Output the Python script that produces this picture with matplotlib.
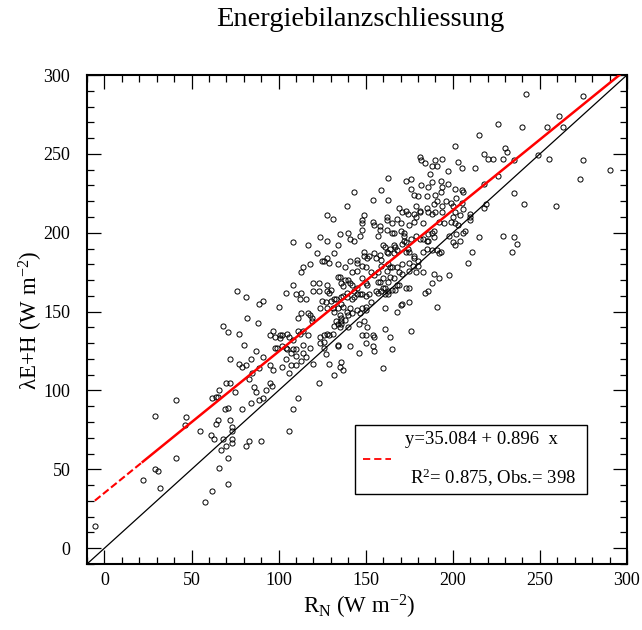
import numpy as np
import matplotlib
matplotlib.use('Agg')
import matplotlib.pyplot as plt
from matplotlib.ticker import MultipleLocator
from matplotlib.patches import Rectangle

plt.rcParams['font.family'] = 'serif'
plt.rcParams['font.serif'] = ['Liberation Serif', 'DejaVu Serif']
plt.rcParams['mathtext.fontset'] = 'custom'
plt.rcParams['mathtext.rm'] = 'Liberation Serif'
plt.rcParams['mathtext.it'] = 'Liberation Serif:italic'

####################################################################################################
# (R_N, lambdaE+H) pairs in W m-2, grouped by region of the cloud

upper_cloud = [
    (181, 248), (182, 246), (184, 244), (190, 246), (194, 247), (188, 242), (191, 242), (187, 237),
    (197, 239), (163, 235), (173, 233), (176, 234), (193, 233), (188, 232), (182, 230), (186, 229),
    (197, 231), (159, 227), (143, 226), (176, 228), (194, 229), (178, 224), (180, 223), (185, 223),
    (190, 224), (193, 226), (163, 221), (154, 221), (139, 217), (179, 217), (196, 220), (191, 220),
    (189, 218), (194, 217), (185, 216), (128, 211), (131, 209), (149, 211), (148, 208), (148, 206),
    (162, 210), (162, 208), (168, 209), (169, 216), (171, 213), (173, 214), (174, 212), (178, 212),
    (181, 214), (181, 213), (186, 213), (188, 212), (190, 213), (194, 213), (179, 210), (178, 207),
    (183, 206), (192, 207), (195, 206), (154, 207), (155, 205), (158, 204), (165, 206), (170, 206),
    (175, 205),
]

right_cloud = [
    (242, 288), (275, 287), (261, 274), (263, 267), (254, 267), (240, 267), (226, 269), (215, 262),
    (201, 255), (230, 254), (231, 251), (218, 250), (220, 247), (223, 247), (229, 247), (235, 246),
    (203, 245), (249, 249), (255, 247), (275, 246), (205, 241), (213, 241), (226, 236), (290, 240),
    (273, 234), (201, 228), (218, 231), (235, 225), (205, 227), (206, 226), (202, 222), (199, 219),
    (200, 217), (205, 219), (219, 218), (218, 216), (241, 218), (259, 217), (206, 215), (201, 213),
    (210, 212), (210, 210), (204, 211), (210, 208), (200, 210), (199, 207), (203, 205), (201, 206),
    (207, 201), (206, 200), (202, 199), (215, 197), (229, 198), (235, 197), (200, 194), (201, 192),
    (204, 195), (237, 193), (211, 188), (234, 188), (209, 181),
]

core_cloud = [
    (124, 197), (128, 195), (135, 199), (140, 200), (141, 196), (143, 195), (148, 202), (147, 198),
    (157, 198), (158, 202), (162, 202), (165, 200), (166, 200), (170, 201), (172, 200), (172, 198),
    (172, 195), (173, 194), (171, 193), (176, 196), (179, 198), (181, 196), (183, 196), (185, 195),
    (186, 199), (188, 200), (189, 201), (189, 197), (186, 195), (198, 198),
    (108, 194), (117, 192), (134, 192), (160, 192), (161, 191), (162, 188), (164, 190), (166, 192),
    (167, 191), (168, 189), (166, 187), (163, 187), (155, 187), (152, 185), (149, 188), (149, 185),
    (132, 187), (122, 187), (173, 188), (174, 190), (175, 188), (183, 188), (185, 190), (188, 189),
    (191, 189), (192, 187), (193, 188),
    (125, 182), (126, 182), (128, 184), (129, 181), (118, 180), (134, 180), (141, 182), (145, 181),
    (145, 183), (151, 184), (148, 179), (156, 184), (158, 186), (159, 183), (163, 180), (165, 178),
    (168, 178), (171, 180), (175, 181), (177, 179), (178, 184), (178, 185), (180, 182), (180, 179),
    (114, 178), (164, 178), (138, 178), (142, 175), (145, 176), (150, 178), (162, 176), (159, 179),
    (113, 175), (153, 175), (155, 173), (157, 175), (169, 175), (171, 174), (175, 176), (179, 175),
    (183, 175), (189, 174), (198, 173), (148, 171), (134, 172), (135, 172), (138, 170), (140, 170),
    (141, 168), (120, 168), (123, 168), (108, 167), (128, 167), (136, 168), (137, 166), (142, 167),
    (150, 168), (151, 167), (157, 169), (158, 169), (163, 169), (164, 172), (166, 171), (168, 167),
    (192, 171), (188, 168), (160, 171),
    (128, 163), (130, 164), (129, 162), (145, 165), (143, 163), (139, 162), (104, 162), (110, 161),
    (113, 162), (120, 163), (112, 158), (116, 158), (123, 163), (125, 157), (127, 156), (130, 157),
    (132, 158), (133, 158), (136, 159), (137, 160), (139, 159), (142, 158), (143, 159), (145, 161),
    (147, 161), (148, 161), (152, 161), (150, 160), (156, 163), (157, 162), (159, 163), (160, 165),
    (161, 165), (161, 161), (163, 163), (163, 161), (165, 164), (167, 164), (169, 167), (173, 165),
    (175, 165), (184, 162), (186, 163),
]

lower_cloud = [
    (100, 153), (111, 146), (113, 149), (117, 149), (118, 148), (119, 146), (119, 144), (124, 152),
    (128, 152), (131, 152), (134, 152), (136, 155), (137, 153), (139, 150), (140, 148), (141, 152),
    (142, 149), (145, 151), (147, 149), (148, 152), (150, 153), (150, 151), (153, 156), (161, 152),
    (168, 150), (170, 154), (171, 155), (175, 156), (191, 153), (132, 150), (135, 148), (136, 146),
    (138, 145), (133, 144),
    (95, 135), (97, 138), (98, 134), (101, 135), (102, 135), (101, 133), (105, 136), (106, 134),
    (108, 132), (111, 138), (114, 138), (112, 136), (117, 135), (124, 134), (126, 135), (128, 136),
    (129, 135), (131, 136), (124, 130), (126, 131), (126, 127), (132, 141), (134, 142), (135, 140),
    (136, 142), (136, 144), (140, 140), (146, 142), (149, 144), (151, 140), (148, 135), (150, 135),
    (154, 135), (155, 134), (161, 139), (164, 134), (176, 138),
    (98, 127), (99, 127), (102, 128), (104, 127), (105, 126), (108, 126), (110, 126), (114, 129),
    (107, 124), (110, 122), (114, 124), (118, 127), (127, 123), (134, 129), (134, 128), (141, 128),
    (150, 130), (154, 128), (155, 125), (165, 126), (146, 124), (116, 121), (104, 120), (113, 119),
    (102, 115), (97, 113), (107, 116), (110, 116), (106, 111), (120, 117), (129, 117), (136, 118),
    (135, 115), (137, 113), (132, 110), (160, 114), (95, 105), (96, 103), (123, 105), (111, 95),
    (108, 88), (106, 74),
]

left_cloud = [
    (76, 163), (81, 159), (89, 155), (91, 157), (82, 146), (88, 143), (68, 141), (71, 137),
    (77, 136), (80, 129), (87, 125), (72, 120), (84, 120), (91, 121), (77, 117), (79, 115),
    (81, 116), (95, 116), (89, 114), (85, 111), (83, 107), (70, 105), (72, 105), (86, 102),
    (66, 100), (75, 99), (87, 99), (93, 100), (41, 94), (62, 95), (64, 96), (65, 96),
    (71, 89), (69, 88), (79, 88), (84, 92), (89, 94), (91, 95), (29, 84), (47, 83),
    (46, 78), (65, 81), (64, 79), (72, 81), (55, 74), (61, 72), (63, 69), (68, 69),
    (73, 77), (73, 74), (73, 69), (73, 67), (70, 65), (67, 62), (81, 65), (83, 68),
    (90, 68), (41, 57), (71, 57), (66, 51), (29, 50), (31, 49), (22, 43), (32, 38),
    (71, 41), (62, 36), (58, 29), (-5.5, 14),
]

intercept = 35.084
slope = 0.896
r_squared = 0.875
n_obs = 398

####################################################################################################

points = np.array(upper_cloud + right_cloud + core_cloud + lower_cloud + left_cloud, dtype=float)
rn, flux = points[:, 0], points[:, 1]

fig = plt.figure(figsize=(6.42, 6.30), dpi=100)
ax = fig.add_axes([87/642, 1 - 564/630, 540/642, 489/630])

ax.plot(rn, flux, 'o', ms=3.7, mfc='none', mec='black', mew=0.7, zorder=3)
ax.axline((0, 0), slope=1, color='black', lw=0.9, zorder=2)

# regression line: sparse (dashed looking) at the low end, solid elsewhere
split = 22
x_dash = np.array([rn.min(), split])
x_solid = np.array([split, 300])
ax.plot(x_dash, intercept + slope * x_dash, color='red', lw=1.5, dashes=(3.5, 1.5), zorder=4)
ax.plot(x_solid, intercept + slope * x_solid, color='red', lw=1.8, zorder=4)

ax.set_xlim(-10, 300)
ax.set_ylim(-10, 300)
for axis in (ax.xaxis, ax.yaxis):
    axis.set_major_locator(MultipleLocator(50))
    axis.set_minor_locator(MultipleLocator(10))
ax.tick_params(which='both', direction='in', top=True, right=True, width=0.9, labelsize=13)
ax.tick_params(which='major', length=10)
ax.tick_params(which='minor', length=5)
ax.tick_params(axis='x', pad=6)
ax.tick_params(axis='y', pad=12)
for spine in ax.spines.values():
    spine.set_linewidth(1.5)

# legend box
ax.add_patch(Rectangle((0.497, 0.1425), 0.4295, 0.141, transform=ax.transAxes,
                       facecolor='white', edgecolor='black', lw=1.0, zorder=5))
ax.plot([0.5106, 0.5624], [0.214, 0.214], transform=ax.transAxes, color='red',
        lw=1.3, dashes=(4, 2.2), zorder=6)
ax.text(0.589, 0.2536, 'y=%.3f + %.3f  x' % (intercept, slope), transform=ax.transAxes,
        fontsize=13.5, va='center', ha='left', zorder=6)
ax.text(0.598, 0.176, 'R$\\mathregular{^2}$= %.3f, Obs.= %d' % (r_squared, n_obs),
        transform=ax.transAxes, fontsize=13.5, va='center', ha='left', zorder=6)

fig.text(360/642, 1 - 20/630, 'Energiebilanzschliessung', fontsize=20.5, ha='center', va='center')
fig.text(359/642, 1 - 607/630, 'R$\\mathregular{_N}$ (W m$\\mathregular{^{-2}}$)',
         fontsize=16.5, ha='center', va='center')
fig.text(31/642, 1 - 320/630, '\u03bbE+H (W m$\\mathregular{^{-2}}$)', fontsize=16.5,
         ha='center', va='center', rotation=90)

fig.savefig('out.png', dpi=100)
